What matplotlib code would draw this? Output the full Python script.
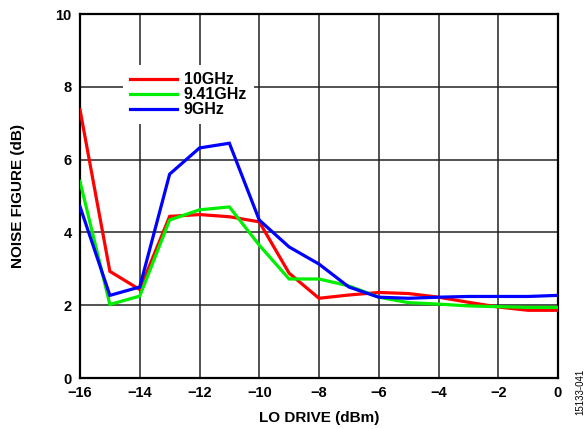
import matplotlib
matplotlib.use("Agg")
import matplotlib.pyplot as plt

lo_drive = [-16, -15, -14, -13, -12, -11, -10, -9, -8, -7, -6, -5, -4, -3, -2, -1, 0]
nf_10ghz = [7.37, 2.93, 2.43, 4.44, 4.49, 4.43, 4.29, 2.88, 2.19, 2.28, 2.35, 2.32, 2.22, 2.08, 1.95, 1.86, 1.86]
nf_941ghz = [5.40, 2.02, 2.25, 4.34, 4.62, 4.70, 3.65, 2.72, 2.72, 2.53, 2.22, 2.07, 2.03, 1.98, 1.96, 1.94, 1.94]
nf_9ghz = [4.71, 2.27, 2.50, 5.60, 6.32, 6.45, 4.34, 3.60, 3.13, 2.50, 2.22, 2.19, 2.22, 2.24, 2.24, 2.24, 2.27]
series_labels = ["10GHz", "9.41GHz", "9GHz"]
x_ticks = [-16, -14, -12, -10, -8, -6, -4, -2, 0]
x_ticklabels = ["\u221216", "\u221214", "\u221212", "\u221210", "\u22128", "\u22126", "\u22124", "\u22122", "0"]
y_ticks = [0, 2, 4, 6, 8, 10]

plt.rcParams['font.family'] = ['Liberation Sans', 'DejaVu Sans']
plt.rcParams['font.weight'] = 'bold'

fig = plt.figure(figsize=(5.88, 4.29), dpi=100)
ax = fig.add_axes([80/588, 1-378/429, (558-80)/588, (378-14)/429])

colors = ["#ff0000", "#00ee00", "#0000ff"]
for ys, lab, c in zip([nf_10ghz, nf_941ghz, nf_9ghz], series_labels, colors):
    ax.plot(lo_drive, ys, color=c, lw=2.3, label=lab, solid_joinstyle='miter', zorder=3)

ax.set_xlim(-16, 0)
ax.set_ylim(0, 10)
ax.set_xticks(x_ticks)
ax.set_xticklabels(x_ticklabels)
ax.set_yticks(y_ticks)
ax.tick_params(length=0, labelsize=10.5, pad=6)
for lbl in ax.get_xticklabels() + ax.get_yticklabels():
    lbl.set_fontweight('bold')
ax.grid(True, color='#222222', lw=1.1)
ax.set_axisbelow(True)
for s in ax.spines.values():
    s.set_linewidth(1.6)
    s.set_color('black')

ax.set_xlabel("LO DRIVE (dBm)", fontsize=11, fontweight='bold', labelpad=8)
ax.set_ylabel("NOISE FIGURE (dB)", fontsize=11, fontweight='bold', labelpad=22)

leg = ax.legend(loc='upper left', bbox_to_anchor=(123/588, 1-65/429), bbox_transform=fig.transFigure,
                frameon=True, fancybox=False, edgecolor='none', facecolor='white', framealpha=1,
                fontsize=11.5, handlelength=2.9, handletextpad=0.45, labelspacing=0.0, borderpad=0.45,
                borderaxespad=0)
for t in leg.get_texts():
    t.set_fontweight('bold')

fig.text(580/588, 1-392/429, "15133-041", rotation=90, fontsize=7, ha='center', va='center', fontweight='normal')

fig.savefig("out.png", dpi=100)
